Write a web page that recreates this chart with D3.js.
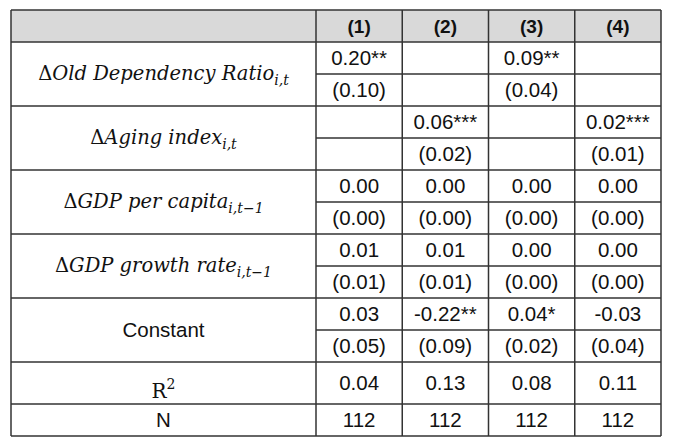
<html>
<head>
<script src="https://d3js.org/d3.v7.min.js"></script>
<style>
  body { margin: 0; background: #fff; }
  .num { font-family: "Liberation Sans", Arial, sans-serif; font-size: 20.5px; fill: #111; }
  .hdr { font-family: "Liberation Sans", Arial, sans-serif; font-size: 19px; font-weight: bold; fill: #111; }
  .lbl { font-family: "DejaVu Serif", "Liberation Serif", serif; font-size: 19.5px; font-style: italic; fill: #111; }
  .grid { stroke: #333; stroke-width: 1.5; fill: none; }
</style>
</head>
<body>
<svg id="table" width="681" height="438"></svg>
<script>
// column headers
const models = ["(1)", "(2)", "(3)", "(4)"];

// row labels: [main text, subscript]
const variables = [
  ["Old Dependency Ratio", "i,t"],
  ["Aging index", "i,t"],
  ["GDP per capita", "i,t\u22121"],
  ["GDP growth rate", "i,t\u22121"]
];

// coefficients and standard errors, one array per variable ("" = not in model)
const oldDepCoef = ["0.20**", "", "0.09**", ""];
const oldDepSe = ["(0.10)", "", "(0.04)", ""];
const agingCoef = ["", "0.06***", "", "0.02***"];
const agingSe = ["", "(0.02)", "", "(0.01)"];
const gdpPcCoef = ["0.00", "0.00", "0.00", "0.00"];
const gdpPcSe = ["(0.00)", "(0.00)", "(0.00)", "(0.00)"];
const gdpGrCoef = ["0.01", "0.01", "0.00", "0.00"];
const gdpGrSe = ["(0.01)", "(0.01)", "(0.00)", "(0.00)"];
const constCoef = ["0.03", "-0.22**", "0.04*", "-0.03"];
const constSe = ["(0.05)", "(0.09)", "(0.02)", "(0.04)"];
const rSquared = ["0.04", "0.13", "0.08", "0.11"];
const nObs = ["112", "112", "112", "112"];

const svg = d3.select("#table");
const tLeft = 11, tRight = 661, tTop = 10, labelW = 305;
const colScale = d3.scaleBand().domain(models).range([tLeft + labelW, tRight]);

// row layout
const sub = 32;
const blocks = [
  { kind: "var", label: variables[0], values: [oldDepCoef, oldDepSe] },
  { kind: "var", label: variables[1], values: [agingCoef, agingSe] },
  { kind: "var", label: variables[2], values: [gdpPcCoef, gdpPcSe] },
  { kind: "var", label: variables[3], values: [gdpGrCoef, gdpGrSe] },
  { kind: "plain", label: "Constant", values: [constCoef, constSe] },
  { kind: "r2", label: "R", values: [rSquared], h: 42 },
  { kind: "plain", label: "N", values: [nObs], h: 32 }
];
let yPos = tTop + sub;
blocks.forEach(b => {
  b.y = yPos;
  b.h = b.h || sub * b.values.length;
  yPos += b.h;
});
const tBottom = yPos;
const labelX = tLeft + labelW / 2;

// header fill
svg.append("rect").attr("x", tLeft).attr("y", tTop).attr("width", tRight - tLeft).attr("height", sub)
  .attr("fill", "#d9d9d9");

const grid = svg.append("g");
// horizontal lines
const hLines = [tTop, tTop + sub];
blocks.forEach(b => hLines.push(b.y + b.h));
hLines.forEach(v => grid.append("line").attr("class", "grid")
  .attr("x1", tLeft).attr("x2", tRight).attr("y1", v).attr("y2", v));
// inner sub-row lines (only across value columns)
blocks.forEach(b => {
  if (b.values.length > 1) {
    grid.append("line").attr("class", "grid")
      .attr("x1", tLeft + labelW).attr("x2", tRight).attr("y1", b.y + sub).attr("y2", b.y + sub);
  }
});
// vertical lines
const vLines = [tLeft, ...models.map(m => colScale(m)), tRight];
vLines.forEach(v => grid.append("line").attr("class", "grid")
  .attr("x1", v).attr("x2", v).attr("y1", tTop).attr("y2", tBottom));

// header text
svg.selectAll("text.hdr").data(models).join("text")
  .attr("class", "hdr")
  .attr("x", d => colScale(d) + colScale.bandwidth() / 2)
  .attr("y", tTop + sub / 2 + 7)
  .attr("text-anchor", "middle")
  .text(d => d);

// values
blocks.forEach(b => {
  b.values.forEach((vals, r) => {
    const rowH = b.values.length > 1 ? sub : b.h;
    svg.append("g").selectAll("text").data(vals).join("text")
      .attr("class", "num")
      .attr("x", (d, i) => colScale(models[i]) + colScale.bandwidth() / 2)
      .attr("y", b.y + r * sub + rowH / 2 + 7)
      .attr("text-anchor", "middle")
      .text(d => d);
  });
});

// labels
blocks.forEach(b => {
  const cy = b.y + b.h / 2;
  if (b.kind === "var") {
    const t = svg.append("text").attr("class", "lbl")
      .attr("x", labelX).attr("y", cy + 6).attr("text-anchor", "middle");
    t.append("tspan").style("font-style", "normal").text("\u0394");
    t.append("tspan").text(b.label[0]);
    t.append("tspan").attr("font-size", 14).attr("dy", 5).text(b.label[1]);
  } else if (b.kind === "r2") {
    const t = svg.append("text").attr("class", "lbl")
      .style("font-style", "normal").style("font-size", "20px")
      .attr("x", labelX).attr("y", cy + 15).attr("text-anchor", "middle");
    t.append("tspan").text(b.label);
    t.append("tspan").attr("font-size", 14).attr("dy", -9).text("2");
  } else {
    svg.append("text").attr("class", "num")
      .attr("x", labelX).attr("y", cy + 7).attr("text-anchor", "middle")
      .text(b.label);
  }
});
</script>
</body>
</html>
